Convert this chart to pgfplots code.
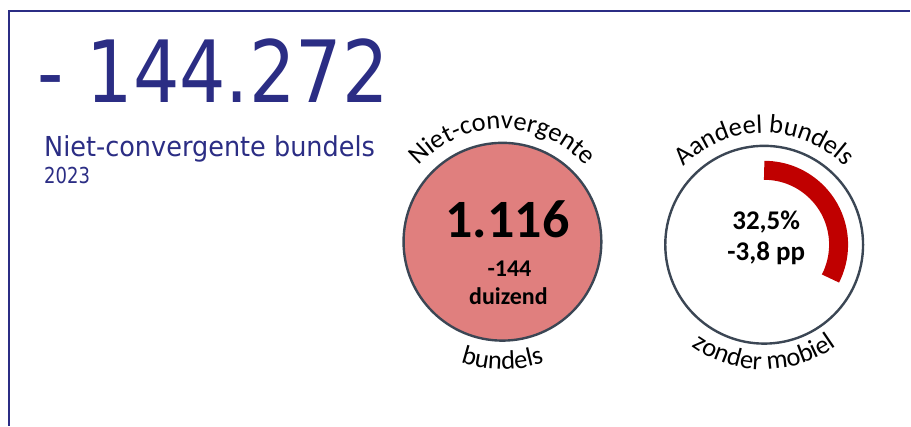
\documentclass[border=0pt]{standalone}
\usepackage{pgfplots}
\pgfplotsset{compat=1.18}
\usepackage{fontspec}
\setmainfont{Carlito}
\newfontfamily\tah{DejaVu Sans}
\usetikzlibrary{decorations.text}
\definecolor{navy}{HTML}{2B2D84}
\definecolor{circfill}{HTML}{E07F7E}
\definecolor{edge}{HTML}{3B4654}
\definecolor{arcred}{HTML}{C00000}
\newcommand\cf{\fontsize{26.5pt}{26.5pt}\selectfont}
\begin{document}
\begin{tikzpicture}
\pgfmathsetmacro\share{32.5}
\begin{axis}[width=911pt, height=426pt, scale only axis,
  xmin=0, xmax=911, ymin=0, ymax=426, y dir=reverse,
  axis lines=none, clip=false]
\path (axis cs:0,0) rectangle (axis cs:911,426);
% frame
\draw[navy, line width=2pt] (axis cs:9,426) -- (axis cs:9,11) -- (axis cs:911,11);
% left circle
\addplot[only marks, mark=*, mark size=99pt,
  mark options={fill=circfill, draw=edge, line width=2.4pt}] coordinates {(503,242)};
% right circle
\addplot[only marks, mark=*, mark size=99pt,
  mark options={fill=white, draw=edge, line width=2.4pt}] coordinates {(765,245)};
\coordinate (arcstart) at (axis cs:765,170.5);
\coordinate (t1) at (axis cs:37,103);
\coordinate (t2) at (axis cs:44,157);
\coordinate (t3) at (axis cs:44,184);
\coordinate (l1) at (axis cs:508,238);
\coordinate (l2) at (axis cs:510,277);
\coordinate (l3) at (axis cs:509,305);
\coordinate (r1) at (axis cs:767,230);
\coordinate (r2) at (axis cs:767,261);
\coordinate (a1) at (axis cs:390,242);
\coordinate (a2) at (axis cs:375,242);
\coordinate (a3) at (axis cs:653,245);
\coordinate (a4) at (axis cs:640,245);
\end{axis}
% share arc
\draw[arcred, line width=19pt] (arcstart) arc[start angle=90, end angle={90-3.6*\share}, radius=74.5pt];
% big number
\node[anchor=base west, inner sep=0, text=navy] at (t1)
  {\scalebox{0.85}[1]{\tah\fontsize{86pt}{86pt}\selectfont - 144.272}};
\node[anchor=base west, inner sep=0, text=navy] at (t2)
  {\scalebox{0.93}[1]{\tah\fontsize{27.5pt}{28pt}\selectfont Niet-convergente bundels}};
\node[anchor=base west, inner sep=0, text=navy] at (t3)
  {\scalebox{0.82}[1]{\tah\fontsize{22pt}{22pt}\selectfont 2023}};
% left circle texts
\node[anchor=base, inner sep=0] at (l1) {\fontsize{54pt}{54pt}\selectfont\bfseries 1.116};
\node[anchor=base, inner sep=0] at (l2) {\fontsize{24pt}{24pt}\selectfont\bfseries -144};
\node[anchor=base, inner sep=0] at (l3) {\fontsize{24pt}{24pt}\selectfont\bfseries duizend};
% right circle texts
\node[anchor=base, inner sep=0] at (r1) {\fontsize{27pt}{27pt}\selectfont\bfseries 32,5\%};
\node[anchor=base, inner sep=0] at (r2) {\fontsize{27pt}{27pt}\selectfont\bfseries -3,8 pp};
% curved labels
\path[decorate, decoration={text along path, text align=center,
  text={|\cf|Niet-convergente}}]
  (a1) arc[start angle=180, end angle=0, radius=113pt];
\path[decorate, decoration={text along path, text align=center,
  text={|\cf|bundels}}]
  (a2) arc[start angle=180, end angle=360, radius=128pt];
\path[decorate, decoration={text along path, text align=center,
  text={|\cf|Aandeel bundels}}]
  (a3) arc[start angle=180, end angle=0, radius=112pt];
\path[decorate, decoration={text along path, text align=center,
  text={|\cf|zonder mobiel}}]
  (a4) arc[start angle=180, end angle=360, radius=125pt];
\end{tikzpicture}
\end{document}
